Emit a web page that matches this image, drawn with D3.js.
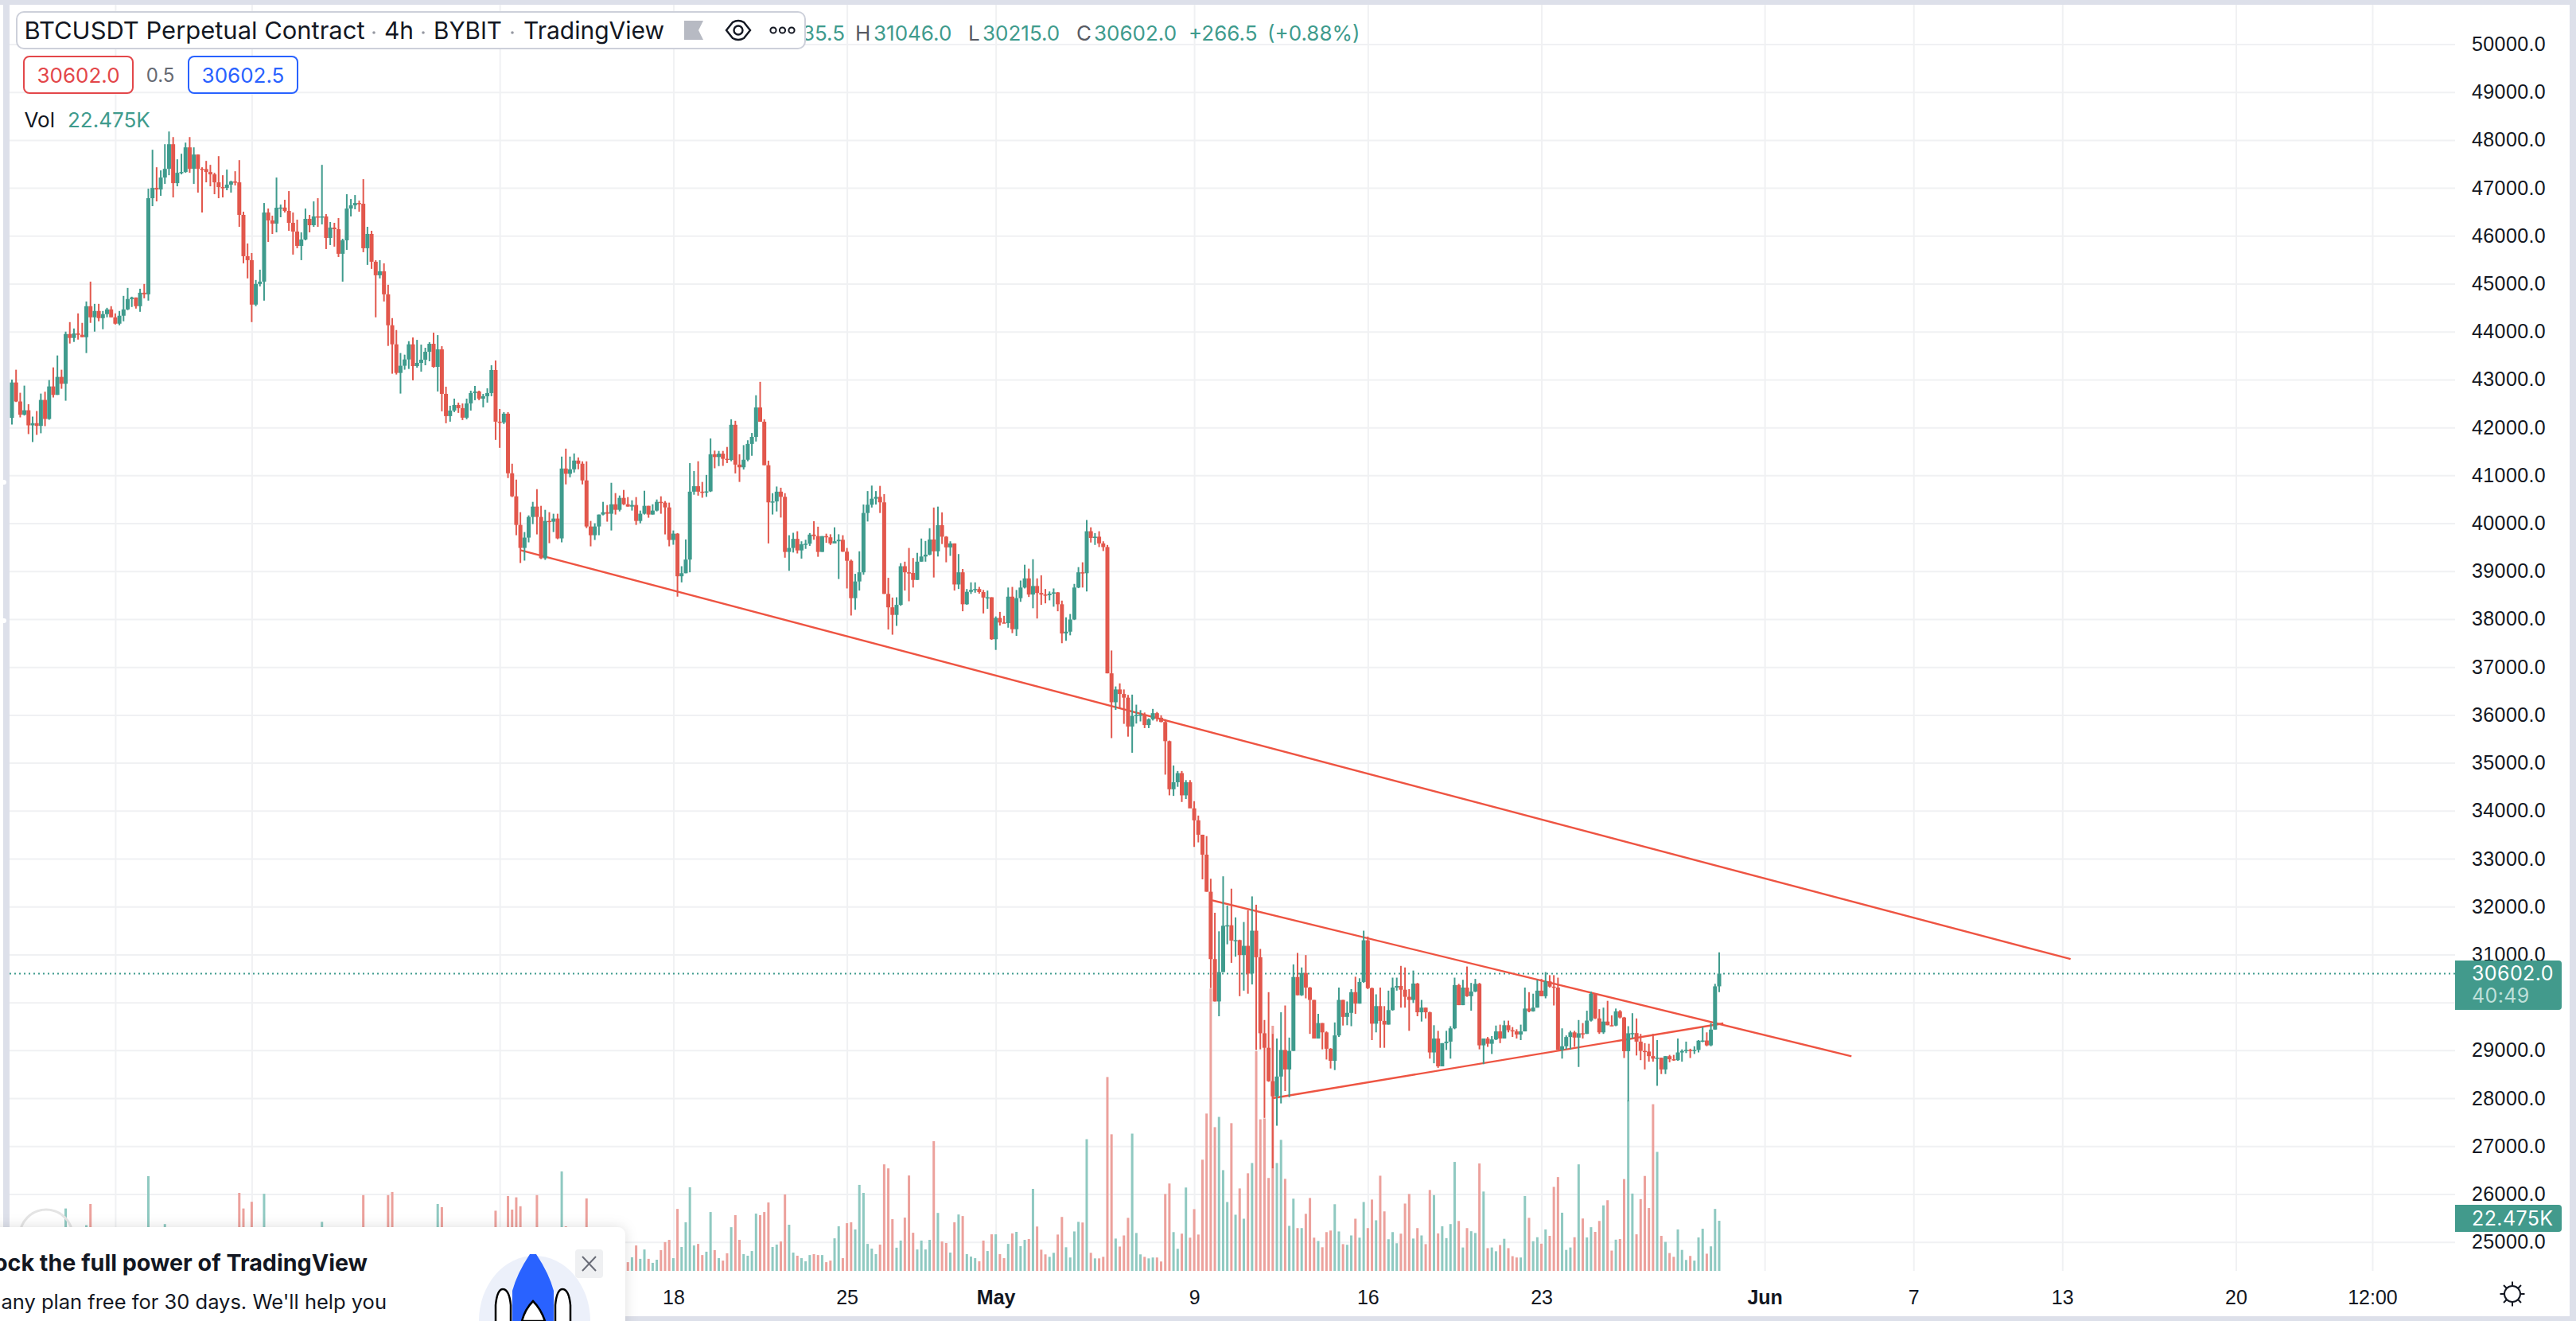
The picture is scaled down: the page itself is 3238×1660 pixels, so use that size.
<!DOCTYPE html>
<html>
<head>
<meta charset="utf-8">
<title>BTCUSDT Perpetual Contract</title>
<script src="https://cdn.jsdelivr.net/npm/d3@7/dist/d3.min.js"></script>
<style>
	html, body { margin: 0; padding: 0; background: #fff; }
	svg { display: block; font-family: Inter, "Liberation Sans", sans-serif; }
	.price_axis text { font-size: 25px; fill: #131722; }
	.time_axis text { font-size: 25px; fill: #131722; }
	.time_axis .month text { font-weight: 600; }
</style>
</head>
<body>
<svg id="chart" width="3238" height="1660" viewBox="0 0 3238 1660"></svg>
<script>
// 4h candles. each candle opens where the last one closed
var first_time = "2022-03-22T08:00:00Z",
	first_open = 42200;

var closes = [
	42939,42542,42265,42359,42044,42089,42033,42575,42177,42856, // 0
	42680,43055,42912,43950,43868,43962,43934,43884,44531,44299, // 10
	44431,44282,44365,44464,44299,44166,44332,44464,44680,44713, // 20
	44531,44812,44779,46785,47000,46967,47216,47398,47912,47100, // 30
	47315,47332,47846,47398,47696,47398,47393,47332,47282,47116, // 40
	47017,47000,47067,47133,47116,46437,45575,45492,44564,44995, // 50
	45044,46486,46321,46254,46586,46590,46520,46271,46089,45790, // 60
	45923,46354,46221,46404,46387,46404,45956,46172,46138,45625, // 70
	45906,46569,46636,46685,46669,45741,46039,45459,45177,45260, // 80
	44779,44133,43735,43138,43288,43420,43735,43281,43348,43414, // 90
	43580,43746,43265,43630,42701,42237,42353,42469,42403,42204, // 100
	42502,42718,42751,42602,42652,42718,43199,42121,42105,42287, // 110
	41044,40563,39966,39486,39701,40132,40348,40132,39270,40049, // 120
	40033,40099,39685,41143,41033,41127,41309,41243,40895,39933, // 130
	39751,39933,40182,40232,40199,40397,40281,40530,40397,40348, // 140
	40381,40049,40199,40364,40182,40265,40447,40431,40331,39652, // 150
	39784,38894,38958,39243,40660,40774,40660,40653,40666,41441, // 160
	41383,41453,41345,41320,42056,41225,41168,41326,41656,41803, // 170
	42418,42120,41212,40437,40456,40660,40552,39402,39485,39675, // 180
	39434,39561,39574,39764,39732,39402,39732,39707,39580,39625, // 190
	39656,39408,39218,38437,38786,38977,40215,40387,40513,40552, // 200
	40437,38526,38246,38088,38297,39104,38977,38964,38818,39199, // 210
	39307,39345,39662,39415,39961,39720,39497,39580,38723,38977, // 220
	38310,38570,38608,38628,38564,38450,38456,37580,38024,37929, // 230
	37916,38469,37789,38437,38659,38850,38513,38691,38545,38513, // 240
	38500,38532,38558,38310,37700,37738,37992,38659,38977,38958, // 250
	39834,39694,39720,39580,39504,36868,36265,36532,36437,36361, // 260
	35757,35980,35999,36005,35789,35910,36037,35942,35853,35453, // 270
	34449,34595,34786,34322,34595,34050,33800,33500,33084,32310, // 280
	30904,30020,30633,31600,31610,31291,31300,30988,31181,30601, // 290
	31497,30943,29356,29053,28356,28040,28453,29008,28601,28988, // 300
	30530,30149,30614,30310,30052,29246,29569,29375,29033,28782, // 310
	29311,30052,29698,29782,30214,29975,30427,31297,30298,29556, // 320
	29923,29614,29537,29840,30310,30343,30265,30117,30052,30394, // 330
	29794,29891,29794,28956,29246,28666,29150,29182,29459,30362, // 340
	29943,30310,30130,30227,30388,29104,29246,29137,29227,29395, // 350
	29246,29524,29420,29395,29330,29395,29872,29814,29891,30246, // 360
	30130,30439,30330,30310,29008,29085,29278,29375,29266,29356, // 370
	29343,29620,30182,29666,29375,29601,29524,29517,29814,29685, // 380
	28982,29356,29360,29182,28988,28975,28879,28827,28846,28601, // 390
	28878,28814,28795,28956,28988,29008,28988,29008,29201,29205, // 400
	29104,29433,30335.5,30602 // 410
];

var highs = [
	43000,43205,42724,42873,42486,42227,42343,42707,42746,42989, // 0
	43254,43503,43205,44000,44199,44066,44381,44183,44630,45044, // 10
	44580,44580,44431,44497,44531,44381,44431,44746,44912,44729, // 20
	44713,44895,44995,46984,47796,47431,47365,47912,48177,48061, // 30
	47597,47713,47945,48061,47846,47696,47431,47564,47481,47315, // 40
	47663,47265,47382,47149,47348,47580,46503,45840,45641,45078, // 50
	45293,46685,46569,46420,47216,46652,46752,46934,46486,46337, // 60
	46072,46569,46437,46718,46785,47481,46453,46288,46271,46370, // 70
	45939,46868,46768,46851,46735,47183,46188,46105,45492,45492, // 80
	45426,44978,44282,44033,43553,43520,43801,43878,43828,43729, // 90
	43663,43779,43978,43928,43696,42851,42453,42602,42519,42502, // 100
	42602,42768,42867,42768,42701,42817,43298,43398,42386,42320, // 110
	42320,41243,40911,40232,39817,40165,40447,40712,40364,40281, // 120
	40232,40199,40199,41392,41558,41392,41458,41375,41293,41293, // 130
	40049,40000,40182,40447,40381,40845,40630,40580,40696,40547, // 140
	40480,40547,40265,40679,40364,40397,40497,40563,40464,40431, // 150
	39850,39796,39104,39663,41256,41091,41295,40863,41009,41771, // 160
	41517,41510,41510,41593,42171,42139,41441,41631,41733,41885, // 170
	42672,42952,42171,41307,40628,40767,40742,40628,39751,39802, // 180
	39834,39624,39656,39796,40043,39929,39732,39783,39771,39916, // 190
	39771,39751,39485,39243,38945,39415,40393,40672,40787,40672, // 200
	40780,40609,38862,38450,38456,39167,39199,39485,39275,39383, // 210
	39682,39631,39897,40329,40348,40228,39732,39624,39580,39358, // 220
	39047,38628,38767,38767,38672,38608,38596,38456,38056,38151, // 230
	38069,38659,38672,38608,38805,39135,39053,39250,38850,38913, // 240
	38628,38577,38640,38564,38386,38037,38107,38735,39085,39186, // 250
	40069,39916,39796,39834,39624,39548,37345,36595,36659,36532, // 260
	36418,36424,36214,36100,36050,35929,36126,36062,35992,35910, // 270
	35465,34945,34830,34830,34640,34640,34200,33900,33500,33471, // 280
	32581,31871,31484,32632,32020,32374,31775,31310,31678,31923, // 290
	32213,32039,31117,29633,30214,29343,29246,29794,29936,29266, // 300
	30794,31033,30730,30988,30323,30052,29762,29569,29395,29046, // 310
	29582,30310,30052,30020,30278,30536,30504,31497,31375,30310, // 320
	30169,30310,29923,30246,30517,30517,30762,30730,30278,30665, // 330
	30407,30052,29891,29807,29524,29407,29150,29407,29504,30517, // 340
	30388,30472,30749,30407,30491,30407,29246,29278,29298,29517, // 350
	29536,29620,29620,29485,29440,29536,30310,30214,30182,30472, // 360
	30491,30633,30569,30569,30517,29459,29311,29407,29407,29633, // 370
	29569,29827,30227,30194,29859,29891,30033,29730,29872,29840, // 380
	29698,29504,29775,29666,29343,29150,29137,29343,29214,28846, // 390
	28878,28905,28905,29246,29020,29182,29033,29085,29214,29485, // 400
	29375,29569,30388,31046 // 410
];

var lows = [
	42061,42530,42210,42249,41862,41696,41845,41879,42028,42160, // 0
	42625,42680,42807,42558,43752,43785,43834,43884,43553,44183, // 10
	44000,44216,44050,44299,44299,44149,44133,44216,44448,44514, // 20
	44481,44414,44696,44647,46619,46718,46835,47083,47265,46801, // 30
	47033,47282,47315,47315,47083,46901,46486,47116,47033,46868, // 40
	46785,46801,46951,46901,47050,46188,45426,45111,44199,44531, // 50
	44945,44647,45873,46039,46072,46387,46486,46105,45608,45741, // 60
	45492,45906,46072,46188,46188,46238,45724,45807,45774,45558, // 70
	45044,45707,46404,46553,46503,45658,45393,45310,44299,45111, // 80
	44630,43702,43122,43105,42707,43205,43221,42983,43248,43165, // 90
	43298,43381,43248,42751,42337,42088,42121,42320,42304,42154, // 100
	42171,42353,42569,42569,42420,42519,42652,41740,41574,42072, // 110
	40944,40547,39751,39171,39221,39602,39983,39768,39254,39237, // 120
	39585,39817,39668,39602,40812,40961,41060,41127,40812,39900, // 130
	39519,39652,39751,40165,40033,39850,40182,40248,40381,40348, // 140
	40265,39966,40000,40182,40116,40182,40248,40199,39768,39519, // 150
	39552,38469,38767,38958,38977,40596,40577,40533,40552,40653, // 160
	41148,41193,41199,41256,41295,41041,40863,41123,41295,41409, // 170
	41707,42120,41212,39580,40183,40247,40120,39282,39009,39390, // 180
	39370,39263,39466,39529,39656,39301,39402,39593,39548,39599, // 190
	38837,39402,38640,38075,38196,38596,38926,40037,40329,40393, // 200
	40215,38526,37783,37675,37859,38278,38596,38373,38659,38818, // 210
	39199,39199,39332,38869,39307,39567,39186,39320,38596,38628, // 220
	38164,38297,38526,38551,38532,38119,38215,37567,37357,37866, // 230
	37916,37821,37707,37650,38361,38640,38462,38227,38012,38297, // 240
	38329,38392,38259,38164,37497,37548,37662,37980,38646,38659, // 250
	38577,39599,39548,39504,39421,36868,35516,36106,36138,35814, // 260
	35547,35211,35820,35865,35726,35726,35884,35865,35846,34754, // 270
	34322,34310,34500,34183,34246,34119,33245,33340,32568,32310, // 280
	30298,30020,29711,30633,31213,30826,30955,30130,30246,30182, // 290
	30375,29008,29021,27589,28343,26537,27427,27892,28150,28021, // 300
	28988,30149,30136,30085,29343,29246,29246,29021,28808,28621, // 310
	28588,29279,29517,29524,29504,29762,29975,30407,30278,29214, // 320
	29375,29053,29053,29537,29827,30246,29891,29891,29407,29988, // 330
	29711,29601,29666,28827,28730,28634,28666,29008,28827,29440, // 340
	29943,29943,30117,29827,30214,29021,28711,29072,28924,29214, // 350
	29150,29246,29375,29279,29246,29214,29395,29794,29807,29891, // 360
	30130,30085,30310,29936,29008,28827,29021,29021,29072,28653, // 370
	29246,29343,29601,29653,29343,29343,29524,29504,29504,29666, // 380
	28840,27937,29246,28892,28795,28601,28763,28763,28260,28505, // 390
	28505,28750,28782,28782,28763,28943,28840,28924,28956,29169, // 400
	29085,29085,29433,30215 // 410
];

// volume in thousands. most bars left of the promo box only show their tops
var volumes = [
	10,9,7,8,6,9,7,12,11,14, // 0
	8,9,8,28,12,9,8,10,20.5,30, // 10
	13,8,7,9,6,7,8,12,10,7, // 20
	6,9,8,42.5,14,10,9,21,16,18, // 30
	11,9,8,7,6,7,6,6,5,6, // 40
	7,8,7,6,9,35,28,15,31,17, // 50
	14,34.6,13,9,11,8,7,6,8,9, // 60
	7,10,6,7,8,22,10,8,9,11, // 70
	7,6,8,12,10,34,12,9,14,10, // 80
	13,34,35.4,15,10,8,6,9,7,6, // 90
	8,11,10,30,28.6,16,14,8,7,6, // 100
	5,8,6,7,6,9,12,27,15,13, // 110
	33.6,27.5,33,29,17,12,10,34,18,14, // 120
	9,11,15,44.6,20,14,9,8,7,32.5, // 130
	18,12,9,7,6,8,5,4.5,6,3.9, // 140
	6.1,11.4,5.4,9.6,5.4,3.6,5,9.3,12.9,13.9, // 150
	5.7,27.8,10.7,21.8,37.5,11.4,12.1,7.1,8.6,26.4, // 160
	9.3,5.7,4.6,7.9,19.6,25,13.9,7.5,6.8,8.9, // 170
	25.7,25,26.4,30.7,10.7,11.8,13.2,34.3,20.7,8.2, // 180
	6.8,5.7,4.3,7.1,7.5,7.1,7.1,3.9,4.6,14.6, // 190
	20,5.7,21.4,21.8,18.6,38.6,35,12.1,10,7.5, // 200
	11.8,47.8,46,23.2,10.4,13.6,23.9,42.8,17.1,9.6, // 210
	13.6,9.6,13.9,58.2,26,13.2,12.5,8.2,21.8,25.3, // 220
	24.6,7.5,6.4,5.7,4.3,13.6,8.9,16.4,16.4,7.5, // 230
	5.7,12.1,16.8,17.5,11.1,13.9,14.3,36.8,19.9,9.5, // 240
	7.4,6.3,8.1,16.3,24.2,10.6,6,17.7,22,21.7, // 250
	59.1,8.1,5.6,5.6,6.3,87,61.3,14.5,10.9,15.9, // 260
	23.8,61.6,17,7.4,6.3,5.6,6,6,4.2,34.5, // 270
	39.2,17.4,9.9,16.7,37.4,14.9,27.7,16.3,49.9,70.6, // 280
	126.7,64.5,69.1,45.2,30.9,66.3,25.2,37,23.4,43.8, // 290
	48.4,98.6,68,68.4,41.7,110,48.4,58.8,41.3,20.2, // 300
	32.4,19.2,19.2,25.6,32.7,14.9,13.4,10.6,17.4,18.1, // 310
	29.9,17.7,12,11.7,15.9,23.4,14.9,30.9,19.2,32, // 320
	22.7,42.7,26.7,14.2,17.4,12.4,16.7,30.2,34.5,14.5, // 330
	19.2,15.9,12,36.3,34,16.8,20,14.7,21,48.9, // 340
	22.4,10.5,19.2,17.8,17,48.2,35.6,10.2,10.5,8.8, // 350
	11.6,14.4,10.2,6.6,6,6,33.6,23.8,13.3,15.1, // 360
	12.2,18.6,15.7,37.7,42.1,26.1,9.4,10.5,15.1,47.8, // 370
	23.5,15,19.6,17.5,22.4,29.4,31.7,9.1,14,14.3, // 380
	41.2,76.5,34.7,16.4,32.2,42.6,28.2,74.8,53.4,15.7, // 390
	13,8,6.3,18.6,9.4,4.9,6.7,4.6,15,18.9, // 400
	7.7,11,27.8,22.475 // 410
];

// the three trend lines drawn on the chart: [time, price] ends
var trend_long = [["2022-04-11T20:00:00Z", 39440], ["2022-06-13T08:00:00Z", 30905]],
	trend_upper = [["2022-05-09T17:36:00Z", 32130], ["2022-06-04T12:00:00Z", 28876]],
	trend_lower = [["2022-05-12T04:00:00Z", 28002], ["2022-05-30T08:00:00Z", 29563]];

var price_ticks = [25000,26000,27000,28000,29000,30000,31000,32000,33000,34000,35000,36000,37000,38000,39000,40000,41000,42000,43000,44000,45000,46000,47000,48000,49000,50000];

// vertical rules. the first three have their labels under the promo box
var time_ticks = ["2022-03-26T12:00:00Z","2022-04-01T00:00:00Z","2022-04-11T00:00:00Z","2022-04-18T00:00:00Z","2022-04-25T00:00:00Z","2022-05-01T00:00:00Z","2022-05-09T00:00:00Z","2022-05-16T00:00:00Z","2022-05-23T00:00:00Z","2022-06-01T00:00:00Z","2022-06-07T00:00:00Z","2022-06-13T00:00:00Z","2022-06-20T00:00:00Z","2022-06-25T12:00:00Z"];
var time_labels = ["","","","18","25","May","9","16","23","Jun","7","13","20","12:00"];

var last_price = 30602,
	last_volume = 22.475;

var up = "#3f9b8d",
	down = "#e2574c",
	up_soft = "#8fc9c1",
	down_soft = "#eca19c",
	line_red = "#ee5442",
	grid = "#f0f1f3",
	frame = "#dde0ea",
	ink = "#131722";

var svg = d3.select("#chart");
var parse = function(s) { return new Date(s); };

// SCALES
var plot = { left: 12, right: 3086, top: 6, bottom: 1597 };

// 5.197px per 4h candle
var x = d3.scaleUtc()
	.domain([parse("2022-03-22T08:00:00Z"), parse("2022-05-30T04:00:00Z")])
	.range([15, 2161]);

var y = d3.scaleLinear().domain([25000, 49000]).range([1560.7, 115.7]);

var vol_y = d3.scaleLinear().domain([0, 100]).range([plot.bottom, plot.bottom - 280]);

var candles = closes.map(function(c, i) {
	return {
		time: new Date(parse(first_time).getTime() + i * 4 * 3600 * 1000),
		open: i ? closes[i - 1] : first_open,
		high: highs[i],
		low: lows[i],
		close: c,
		volume: volumes[i]
	};
});

svg.append("defs").append("clipPath").attr("id", "plot_clip")
	.append("rect")
	.attr("x", plot.left).attr("y", plot.top)
	.attr("width", plot.right - plot.left).attr("height", plot.bottom - plot.top);

svg.append("defs").append("filter").attr("id", "promo_shadow")
	.attr("x", "-10%").attr("y", "-20%").attr("width", "120%").attr("height", "140%")
	.append("feDropShadow")
	.attr("dx", 0).attr("dy", 0).attr("stdDeviation", 8)
	.attr("flood-color", "#000").attr("flood-opacity", 0.13);

// GRID
var grid_layer = svg.append("g").attr("clip-path", "url(#plot_clip)");

grid_layer.append("g")
	.attr("transform", "translate(" + plot.left + ",0)")
	.call(d3.axisRight(y).tickValues(price_ticks).tickSize(plot.right - plot.left).tickFormat(""))
	.call(function(g) { g.select(".domain").remove(); })
	.selectAll("line").attr("stroke", grid).attr("stroke-width", 2);

grid_layer.append("g")
	.attr("transform", "translate(0," + plot.bottom + ")")
	.call(d3.axisTop(x).tickValues(time_ticks.map(parse)).tickSize(plot.bottom - plot.top).tickFormat(""))
	.call(function(g) { g.select(".domain").remove(); })
	.selectAll("line").attr("stroke", grid).attr("stroke-width", 2);

// DATA
var data_layer = svg.append("g").attr("clip-path", "url(#plot_clip)");

data_layer.append("g").selectAll("rect")
	.data(candles)
	.join("rect")
	.attr("x", function(d) { return x(d.time) - 1.5; })
	.attr("width", 3)
	.attr("y", function(d) { return vol_y(d.volume); })
	.attr("height", function(d) { return vol_y(0) - vol_y(d.volume); })
	.attr("fill", function(d) { return d.close >= d.open ? up_soft : down_soft; });

// last price line
data_layer.append("line")
	.attr("x1", plot.left).attr("x2", plot.right)
	.attr("y1", y(last_price)).attr("y2", y(last_price))
	.attr("stroke", up).attr("stroke-width", 2).attr("stroke-dasharray", "2 4");

var trend_path = d3.line()
	.x(function(d) { return x(parse(d[0])); })
	.y(function(d) { return y(d[1]); });

data_layer.append("g").selectAll("path")
	.data([trend_long, trend_upper, trend_lower])
	.join("path")
	.attr("d", trend_path)
	.attr("fill", "none")
	.attr("stroke", line_red)
	.attr("stroke-width", 2.4);

data_layer.append("g").selectAll("line")
	.data(candles)
	.join("line")
	.attr("x1", function(d) { return x(d.time); })
	.attr("x2", function(d) { return x(d.time); })
	.attr("y1", function(d) { return y(d.high); })
	.attr("y2", function(d) { return y(d.low); })
	.attr("stroke", function(d) { return d.close >= d.open ? up : down; })
	.attr("stroke-width", 2);

data_layer.append("g").selectAll("rect")
	.data(candles)
	.join("rect")
	.attr("x", function(d) { return x(d.time) - 2.5; })
	.attr("width", 5)
	.attr("y", function(d) { return y(Math.max(d.open, d.close)); })
	.attr("height", function(d) { return Math.max(1.5, Math.abs(y(d.open) - y(d.close))); })
	.attr("fill", function(d) { return d.close >= d.open ? up : down; });

// AXES
var price_axis = svg.append("g")
	.attr("class", "price_axis")
	.attr("transform", "translate(" + plot.right + ",0)")
	.call(d3.axisRight(y).tickValues(price_ticks).tickSize(0).tickPadding(21)
		.tickFormat(function(d) { return d.toFixed(1); }));
price_axis.select(".domain").remove();
price_axis.selectAll("text").attr("letter-spacing", 0.4);

var time_axis = svg.append("g")
	.attr("class", "time_axis")
	.attr("transform", "translate(0," + plot.bottom + ")")
	.call(d3.axisBottom(x).tickValues(time_ticks.map(parse)).tickSize(0).tickPadding(24)
		.tickFormat(function(d, i) { return time_labels[i]; }));
time_axis.select(".domain").remove();
time_axis.selectAll(".tick")
	.classed("month", function(d, i) { return time_labels[i] === "May" || time_labels[i] === "Jun"; });

// price tags on the scale
var tag_layer = svg.append("g");

tag_layer.append("path")
	.attr("d", "M" + plot.right + " 1207H3216a4 4 0 0 1 4 4V1265a4 4 0 0 1 -4 4H" + plot.right + "Z")
	.attr("fill", "#429a8c");
tag_layer.append("text")
	.attr("x", 3107).attr("y", y(last_price) + 9)
	.attr("font-size", 25).attr("letter-spacing", 0.4).attr("fill", "#fff")
	.text(last_price.toFixed(1));
tag_layer.append("text")
	.attr("x", 3107).attr("y", 1260)
	.attr("font-size", 25).attr("letter-spacing", 0.4).attr("fill", "#bfe0da")
	.text("40:49");

tag_layer.append("path")
	.attr("d", "M" + plot.right + " 1514H3216a4 4 0 0 1 4 4V1544a4 4 0 0 1 -4 4H" + plot.right + "Z")
	.attr("fill", "#429a8c");
tag_layer.append("text")
	.attr("x", 3107).attr("y", 1540)
	.attr("font-size", 25).attr("letter-spacing", 0.4).attr("fill", "#fff")
	.text(last_volume.toFixed(3) + "K");

// settings gear
var gear = svg.append("g")
	.attr("transform", "translate(3158,1626)")
	.attr("fill", "none").attr("stroke", ink).attr("stroke-width", 2);
gear.append("circle").attr("r", 10);
d3.range(8).forEach(function(k) {
	gear.append("line")
		.attr("x1", 10).attr("x2", 15.5)
		.attr("transform", "rotate(" + (k * 45) + ")");
});

// FRAME around the chart panel
var frame_layer = svg.append("g").attr("fill", frame);
frame_layer.append("rect").attr("x", 0).attr("y", 0).attr("width", 3238).attr("height", 6);
frame_layer.append("rect").attr("x", 4).attr("y", 0).attr("width", 8).attr("height", 1660);
frame_layer.append("rect").attr("x", 3230).attr("y", 0).attr("width", 8).attr("height", 1660);
frame_layer.append("rect").attr("x", 0).attr("y", 1654).attr("width", 3238).attr("height", 6);

// little gaps between the side panels
svg.append("g").selectAll("rect")
	.data([603, 777])
	.join("rect")
	.attr("x", 0).attr("y", function(d) { return d; })
	.attr("width", 8).attr("height", 6).attr("rx", 3)
	.attr("fill", "#fff");

// LEGEND
var ohlc = [
	{ x: 1062, t: "O30335.5", c: up, anchor: "end" },
	{ x: 1075, t: "H", c: "#575a63" },
	{ x: 1098, t: "31046.0", c: up },
	{ x: 1217, t: "L", c: "#575a63" },
	{ x: 1235, t: "30215.0", c: up },
	{ x: 1353, t: "C", c: "#575a63" },
	{ x: 1375, t: "30602.0", c: up },
	{ x: 1494, t: "+266.5", c: up },
	{ x: 1593, t: "(+0.88%)", c: up }
];
svg.append("g").selectAll("text")
	.data(ohlc)
	.join("text")
	.attr("x", function(d) { return d.x; })
	.attr("y", 50.5)
	.attr("text-anchor", function(d) { return d.anchor || "start"; })
	.attr("font-size", 26)
	.attr("fill", function(d) { return d.c; })
	.text(function(d) { return d.t; });

var legend = svg.append("g");
legend.append("rect")
	.attr("x", 21).attr("y", 15).attr("width", 991).attr("height", 46).attr("rx", 9)
	.attr("fill", "#fff").attr("stroke", "#cdd0da").attr("stroke-width", 2);

var title_parts = [
	{ x: 30.5, t: "BTCUSDT Perpetual Contract", w: 428 },
	{ x: 483, t: "4h", w: 37 },
	{ x: 545, t: "BYBIT", w: 86 },
	{ x: 658, t: "TradingView", w: 177 }
];
legend.selectAll("text.part")
	.data(title_parts)
	.join("text")
	.attr("class", "part")
	.attr("x", function(d) { return d.x; })
	.attr("y", 49)
	.attr("font-size", 30)
	.attr("fill", ink)
	.attr("textLength", function(d) { return d.w; })
	.attr("lengthAdjust", "spacingAndGlyphs")
	.text(function(d) { return d.t; });
legend.selectAll("circle.sep")
	.data([470, 532, 644])
	.join("circle")
	.attr("class", "sep")
	.attr("cx", function(d) { return d; })
	.attr("cy", 41)
	.attr("r", 1.8)
	.attr("fill", "#9598a1");

// flag, eye and dots icons
legend.append("path")
	.attr("d", "M860 26H884L878 38L884 50H860Z")
	.attr("fill", "#b7bac3");
legend.append("path")
	.attr("d", "M913 38L921 28Q928 24 935 28L943 38L935 48Q928 52 921 48Z")
	.attr("fill", "none").attr("stroke", ink).attr("stroke-width", 2.4);
legend.append("circle")
	.attr("cx", 928).attr("cy", 38).attr("r", 5.5)
	.attr("fill", "none").attr("stroke", ink).attr("stroke-width", 2.4);
legend.selectAll("circle.dot")
	.data([972, 983.5, 995])
	.join("circle")
	.attr("class", "dot")
	.attr("cx", function(d) { return d; })
	.attr("cy", 38)
	.attr("r", 3.6)
	.attr("fill", "none").attr("stroke", ink).attr("stroke-width", 2);

// bid/ask pills
var spread = svg.append("g").attr("font-size", 26);
spread.append("rect")
	.attr("x", 30).attr("y", 71).attr("width", 137).attr("height", 46).attr("rx", 7)
	.attr("fill", "#fff").attr("stroke", "#e3474a").attr("stroke-width", 2);
spread.append("text")
	.attr("x", 98.5).attr("y", 104).attr("text-anchor", "middle")
	.attr("fill", "#e3474a").text("30602.0");
spread.append("text")
	.attr("x", 201.5).attr("y", 103).attr("text-anchor", "middle")
	.attr("font-size", 24).attr("fill", "#666a73").text("0.5");
spread.append("rect")
	.attr("x", 237).attr("y", 71).attr("width", 137).attr("height", 46).attr("rx", 7)
	.attr("fill", "#fff").attr("stroke", "#2962ff").attr("stroke-width", 2);
spread.append("text")
	.attr("x", 305.5).attr("y", 104).attr("text-anchor", "middle")
	.attr("fill", "#2962ff").text("30602.5");

svg.append("text")
	.attr("x", 30.5).attr("y", 160)
	.attr("font-size", 26).attr("fill", ink).text("Vol");
svg.append("text")
	.attr("x", 85).attr("y", 160)
	.attr("font-size", 26).attr("fill", up).text("22.475K");

// PROMO box, hanging off the bottom left of the window
var promo = svg.append("g");

promo.append("circle")
	.attr("cx", 58).attr("cy", 1553).attr("r", 33)
	.attr("fill", "none").attr("stroke", "#e4e4e4").attr("stroke-width", 3);

promo.append("rect")
	.attr("x", -20).attr("y", 1542).attr("width", 806).attr("height", 140).attr("rx", 10)
	.attr("fill", "#fff")
	.attr("filter", "url(#promo_shadow)");

promo.append("text")
	.attr("x", 462).attr("y", 1597)
	.attr("text-anchor", "end")
	.attr("font-size", 28.7).attr("font-weight", 700).attr("fill", ink)
	.text("Unlock the full power of TradingView");
promo.append("text")
	.attr("x", 486).attr("y", 1645)
	.attr("text-anchor", "end")
	.attr("font-size", 25.5).attr("fill", ink)
	.text("Try any plan free for 30 days. We'll help you");

// rocket
promo.append("ellipse")
	.attr("cx", 672).attr("cy", 1660).attr("rx", 70).attr("ry", 82)
	.attr("fill", "#ecf0fa");
promo.append("path")
	.attr("d", "M623 1660V1640Q625 1620 632 1620Q640 1620 642 1640V1660")
	.attr("fill", "#fff").attr("stroke", "#000").attr("stroke-width", 2.5);
promo.append("path")
	.attr("d", "M698 1660V1640Q700 1620 707 1620Q715 1620 717 1640V1660")
	.attr("fill", "#fff").attr("stroke", "#000").attr("stroke-width", 2.5);
promo.append("path")
	.attr("d", "M644 1660V1622Q650 1600 666 1576H674Q690 1600 696 1622V1660Z")
	.attr("fill", "#2962ff");
promo.append("path")
	.attr("d", "M656 1660Q660 1645 670 1635Q680 1645 685 1660Z")
	.attr("fill", "#fff").attr("stroke", "#000").attr("stroke-width", 2.5);

// close button
promo.append("rect")
	.attr("x", 723).attr("y", 1570).attr("width", 35).attr("height", 36).attr("rx", 4)
	.attr("fill", "#eff0f2");
promo.append("path")
	.attr("d", "M732 1579L749 1597M749 1579L732 1597")
	.attr("stroke", "#6a6d78").attr("stroke-width", 2);
</script>
</body>
</html>
